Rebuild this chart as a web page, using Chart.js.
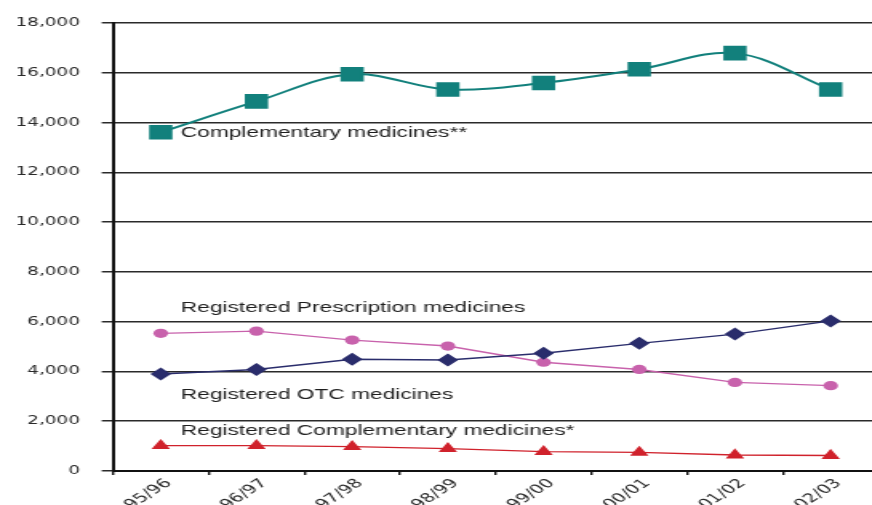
<!DOCTYPE html>
<html>
<head>
<meta charset="utf-8">
<script src="https://cdn.jsdelivr.net/npm/chart.js@4"></script>
<style>
  html, body { margin: 0; padding: 0; background: #fff; overflow: hidden; width: 872px; height: 505px; }
  /* the original picture is stretched sideways, so the canvas is too */
  #myChart { position: absolute; left: 0; top: 0; transform: scaleX(1.6); transform-origin: 0 0; }
</style>
</head>
<body>
<canvas id="myChart" width="560" height="505"></canvas>
<script>
const years = ['95/96', '96/97', '97/98', '98/99', '99/00', '00/01', '01/02', '02/03'];
const complementary = [13610, 14850, 15940, 15330, 15590, 16140, 16790, 15330];
const prescription = [3900, 4080, 4490, 4460, 4730, 5130, 5500, 6030];
const otc = [5530, 5620, 5260, 5020, 4370, 4080, 3560, 3430];
const regComplementary = [1020, 1020, 980, 900, 780, 750, 640, 620];
const yTicks = [0, 2000, 4000, 6000, 8000, 10000, 12000, 14000, 16000, 18000];

// text next to the lines, placed on the value scale
const lineLabels = [
    { text: 'Complementary medicines**', value: 13570 },
    { text: 'Registered Prescription medicines', value: 6550 },
    { text: 'Registered OTC medicines', value: 3050 },
    { text: 'Registered Complementary medicines*', value: 1610 }
];

const labelPlugin = {
    id: 'lineLabels',
    afterDatasetsDraw(chart) {
        const ctx = chart.ctx;
        const x = chart.scales.x.getPixelForValue(0) + 12.5;
        ctx.save();
        ctx.font = '14.2px "Liberation Sans", Arial, sans-serif';
        ctx.fillStyle = '#1e1e1e';
        ctx.textBaseline = 'middle';
        lineLabels.forEach(l => {
            ctx.fillText(l.text, x, chart.scales.y.getPixelForValue(l.value));
        });
        ctx.restore();
    }
};

const tickFont = { family: '"DejaVu Sans", sans-serif', size: 11.5 };

new Chart('myChart', {
    type: 'line',
    data: {
        labels: years,
        datasets: [{
            data: complementary,
            borderColor: '#12807c',
            backgroundColor: '#12807c',
            borderWidth: 2,
            tension: 0.35,
            pointStyle: 'rect',
            pointRadius: 8.9,
            fill: false
        }, {
            data: prescription,
            borderColor: '#2a2d6c',
            backgroundColor: '#2a2d6c',
            borderWidth: 1.4,
            pointStyle: 'rectRot',
            pointRadius: 5.5,
            fill: false
        }, {
            data: otc,
            borderColor: '#c862ac',
            backgroundColor: '#c862ac',
            borderWidth: 1.4,
            pointStyle: 'circle',
            pointRadius: 4.6,
            pointBorderWidth: 0,
            fill: false
        }, {
            data: regComplementary,
            borderColor: '#d0222c',
            backgroundColor: '#d0222c',
            borderWidth: 1.4,
            pointStyle: 'triangle',
            pointRadius: 5.3,
            fill: false
        }]
    },
    options: {
        responsive: false,
        animation: false,
        layout: { padding: { left: 0, right: 9.4, top: 23, bottom: 0 } },
        plugins: {
            legend: { display: false },
            tooltip: { enabled: false }
        },
        scales: {
            x: {
                offset: true,
                grid: {
                    offset: true,
                    drawOnChartArea: false,
                    drawTicks: true,
                    tickLength: 4,
                    color: '#111',
                    lineWidth: 1.4
                },
                border: { color: '#111', width: 2 },
                ticks: {
                    font: { family: '"DejaVu Sans", sans-serif', size: 12.5 },
                    color: '#2a2a2a',
                    minRotation: 45,
                    maxRotation: 45,
                    padding: 1,
                    labelOffset: 5
                },
                afterFit(scale) { scale.height = 34; }
            },
            y: {
                min: 0,
                max: 18000,
                afterBuildTicks(scale) { scale.ticks = yTicks.map(v => ({ value: v })); },
                grid: {
                    color: '#2a2a2a',
                    lineWidth: 1.5,
                    tickLength: 7
                },
                border: { color: '#111', width: 2 },
                ticks: {
                    font: tickFont,
                    color: '#2a2a2a',
                    padding: 13.6,
                    callback: v => v.toLocaleString('en-US')
                },
                afterFit(scale) { scale.width = 70.6; }
            }
        }
    },
    plugins: [labelPlugin]
});
</script>
</body>
</html>
